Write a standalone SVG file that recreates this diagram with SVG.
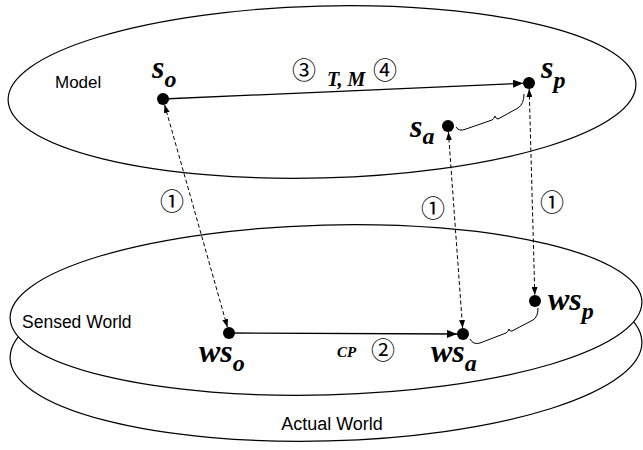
<svg xmlns="http://www.w3.org/2000/svg" width="643" height="450" viewBox="0 0 643 450">
<defs>
<style>
.plane{fill:#fff;stroke:#000;stroke-width:1.2}
.lbl{font-family:"Liberation Sans",Arial,sans-serif;font-size:17.5px;fill:#000}
.var{font-family:"Liberation Serif","Times New Roman",serif;font-style:italic;font-weight:bold;font-size:32px;fill:#000}
.sub{font-size:24px}
.num{font-family:"Noto Sans CJK JP","DejaVu Sans",sans-serif;font-size:24px;fill:#000;text-anchor:middle}
.dot{fill:#000}
.solid{stroke:#000;stroke-width:1.3;fill:none}
.dash{stroke:#000;stroke-width:1;stroke-dasharray:4 2.5;fill:none}
.brace{stroke:#000;stroke-width:1;fill:none}
</style>
<marker id="ah" viewBox="0 0 10 8" refX="10" refY="4" markerWidth="10" markerHeight="8" markerUnits="userSpaceOnUse" orient="auto-start-reverse">
<path d="M0,0 L10,4 L0,8 Z" fill="#000"/>
</marker>
<marker id="dh" viewBox="0 0 8 6" refX="8" refY="3" markerWidth="8" markerHeight="6" markerUnits="userSpaceOnUse" orient="auto-start-reverse">
<path d="M0,0 L8,3 L0,6 Z" fill="#000"/>
</marker>
</defs>

<g id="actual-world">
<ellipse class="plane" cx="326" cy="350" rx="316" ry="91" transform="rotate(-1.5 326 350)"/>
<text class="lbl" x="332" y="430" text-anchor="middle" style="font-size:18px">Actual World</text>
</g>
<g id="sensed-world">
<ellipse class="plane" cx="326" cy="310" rx="316" ry="85" transform="rotate(-1.5 326 310)"/>
<text class="lbl" x="22" y="328">Sensed World</text>
</g>
<g id="model">
<ellipse class="plane" cx="322" cy="92" rx="314" ry="86" transform="rotate(-1.5 322 92)"/>
<text class="lbl" x="55" y="88" style="font-size:17px">Model</text>
</g>

<g id="connectors">
<line class="solid" x1="163" y1="99" x2="523" y2="83.3" marker-end="url(#ah)"/>
<line class="solid" x1="229" y1="333" x2="457" y2="334" marker-end="url(#ah)"/>
<line class="dash" x1="164.6" y1="104.8" x2="227.4" y2="327.2" marker-start="url(#dh)" marker-end="url(#dh)"/>
<line class="dash" x1="448.4" y1="132" x2="462.6" y2="328" marker-start="url(#dh)" marker-end="url(#dh)"/>
<line class="dash" x1="529.2" y1="89" x2="534.8" y2="295" marker-start="url(#dh)" marker-end="url(#dh)"/>
<path class="brace" d="M456,127 Q459,132 466,129 L492,120 Q494,119 495,116 Q496,119 498,119 L518,108 Q524,104 524,94"/>
<path class="brace" d="M470,339 Q473,345 480,343 L506,333 Q508,332 509,329 Q510,332 512,331 L533,320 Q538,317 538,308"/>
<text class="num" x="172" y="210">①</text>
<text class="num" x="433" y="217">①</text>
<text class="num" x="552" y="211">①</text>
<text class="num" x="304" y="79">③</text>
<text class="var" x="327" y="86" style="font-size:20px">T, M</text>
<text class="num" x="385" y="79">④</text>
<text class="var" x="337" y="357" style="font-size:15px">CP</text>
<text class="num" x="383" y="359">②</text>
</g>

<g id="s_o">
<circle class="dot" cx="163" cy="99" r="6"/>
<text class="var" x="152" y="78">s<tspan class="sub" dy="9">o</tspan></text>
</g>
<g id="s_p">
<circle class="dot" cx="529" cy="83" r="6"/>
<text class="var" x="541" y="78">s<tspan class="sub" dy="10">p</tspan></text>
</g>
<g id="s_a">
<circle class="dot" cx="448" cy="126" r="6"/>
<text class="var" x="410" y="137">s<tspan class="sub" dy="7">a</tspan></text>
</g>
<g id="ws_o">
<circle class="dot" cx="229" cy="333" r="6"/>
<text class="var" x="199" y="362">ws<tspan class="sub" dy="9">o</tspan></text>
</g>
<g id="ws_a">
<circle class="dot" cx="463" cy="334" r="6"/>
<text class="var" x="431" y="362">ws<tspan class="sub" dy="9">a</tspan></text>
</g>
<g id="ws_p">
<circle class="dot" cx="535" cy="301" r="6"/>
<text class="var" x="548" y="310">ws<tspan class="sub" dy="9">p</tspan></text>
</g>
</svg>
